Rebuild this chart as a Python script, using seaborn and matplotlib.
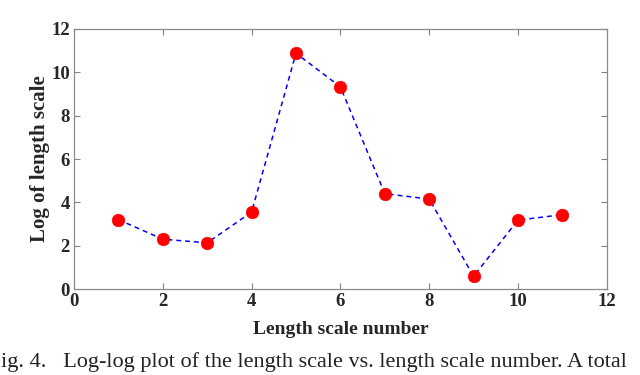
import matplotlib
matplotlib.use("Agg")
import matplotlib.pyplot as plt
import seaborn as sns
import pandas as pd

scale_number = [1, 2, 3, 4, 5, 6, 7, 8, 9, 10, 11]
log_length = [3.2, 2.3, 2.13, 3.55, 10.88, 9.33, 4.4, 4.15, 0.59, 3.18, 3.43]
x_ticks = [0, 2, 4, 6, 8, 10, 12]
y_ticks = [0, 2, 4, 6, 8, 10, 12]

sns.set_theme(style="white")
plt.rcParams['font.family'] = ['Liberation Serif', 'DejaVu Serif']

df = pd.DataFrame({"n": scale_number, "v": log_length})

fig = plt.figure(figsize=(6.4, 3.75), dpi=100)
ax = fig.add_axes([0.1156, 0.2293, 0.8325, 0.6934])

sns.lineplot(data=df, x="n", y="v", ax=ax, color="#0000ff", linestyle=(0, (3.2, 2.6)),
             linewidth=1.1, marker="o", markersize=9, markerfacecolor="#ff0000",
             markeredgecolor="#ff0000", markeredgewidth=0.5)

ax.set_xlim(0, 12)
ax.set_ylim(0, 12)
ax.set_xticks(x_ticks)
ax.set_yticks(y_ticks)
ax.set_xticklabels([str(t) for t in x_ticks], fontsize=13.5, fontweight="bold", color="#262626")
ax.set_yticklabels([str(t) for t in y_ticks], fontsize=13.5, fontweight="bold", color="#262626")
ax.tick_params(direction="in", length=4.5, width=0.8, color="#808080",
               top=True, right=True, bottom=True, left=True, pad=3)
for s in ax.spines.values():
    s.set_color("#8a8a8a")
    s.set_linewidth(0.9)
    s.set_visible(True)

ax.set_xlabel("Length scale number", fontsize=14, fontweight="bold", color="#262626", labelpad=7.5)
ax.set_ylabel("Log of length scale", fontsize=15, fontweight="bold", color="#262626", labelpad=0.5)

fig.text(0.002, 0.035, "ig. 4.   Log-log plot of the length scale vs. length scale number. A total",
         fontsize=16, color="#222222", ha="left", va="center")

fig.savefig("out.png", dpi=100)
